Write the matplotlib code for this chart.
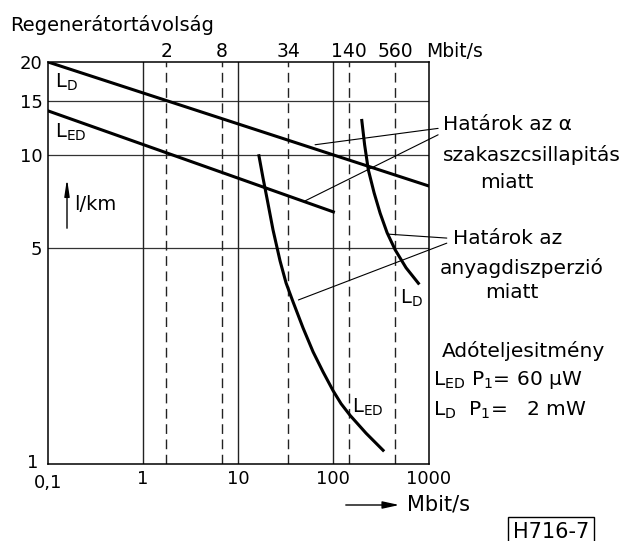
import matplotlib
matplotlib.use('Agg')
import matplotlib.pyplot as plt

W, H = 630, 541
plt.rcParams['font.family'] = ['DejaVu Sans']
plt.rcParams['mathtext.fontset'] = 'dejavusans'

# ---- data ----
top_labels = ['2', '8', '34', '140', '560']
top_label_pos = [1.75, 6.75, 33.6, 147, 446]
solid_x = [1, 10, 100]
grid_y = [5, 10, 15]
ytick_vals = [5, 10, 15, 20]
ytick_labels = ['5', '10', '15', '20']
xtick_vals = [1, 10, 100, 1000]
xtick_labels = ['1', '10', '100', '1000']

ld_att_x = [0.1, 1000]
ld_att_y = [20, 7.95]
led_att_x = [0.1, 100]
led_att_y = [13.9, 6.55]
led_disp_x = [16.5, 18.2, 20.1, 23.2, 27.5, 31.8, 37.7, 48.0, 61.2, 77.9,
              99.3, 120.5, 149.8, 220.8, 333]
led_disp_y = [9.95, 8.44, 7.22, 5.73, 4.55, 3.86, 3.35, 2.76, 2.31, 1.99,
              1.73, 1.57, 1.44, 1.26, 1.11]
ld_disp_x = [199, 213, 233, 268, 310, 367, 446, 581, 783]
ld_disp_y = [12.94, 10.8, 8.96, 7.55, 6.49, 5.61, 4.94, 4.32, 3.85]

fig = plt.figure(figsize=(W / 100, H / 100), dpi=100)
ax = fig.add_axes([48 / W, 1 - 464.3 / H, (428.5 - 48) / W, (464.3 - 62) / H])
ax.set_xscale('log')
ax.set_yscale('log')
ax.set_xlim(0.1, 1000)
ax.set_ylim(1, 20)
for s in ax.spines.values():
    s.set_linewidth(1.1)
ax.tick_params(length=0, labelsize=13, pad=4)
ax.set_xticks(xtick_vals)
ax.set_xticklabels(xtick_labels)
ax.set_yticks(ytick_vals)
ax.set_yticklabels(ytick_labels)
ax.minorticks_off()

for y in grid_y:
    ax.axhline(y, color='#333333', lw=0.9)
for x in solid_x:
    ax.axvline(x, color='#222222', lw=1.0)
for x in top_label_pos:
    ax.axvline(x, color='#222222', lw=1.0, dashes=(7, 4))

tr_top = ax.get_xaxis_transform()
for x, lab in zip(top_label_pos, top_labels):
    ax.text(x, 1.026, lab, transform=tr_top, ha='center', va='center', fontsize=13.5)
ax.text(0.995, 1.026, 'Mbit/s', transform=ax.transAxes, ha='left', va='center', fontsize=13.5)

# special labels 0,1 and 1
ax.text(0.1, -0.047, '0,1', transform=tr_top, ha='center', va='center', fontsize=13)
ax.text(-0.04, 0.003, '1', transform=ax.transAxes, ha='center', va='center', fontsize=13)

lw = 2.2
ax.plot(ld_att_x, ld_att_y, color='black', lw=lw)
ax.plot(led_att_x, led_att_y, color='black', lw=lw)
ax.plot(led_disp_x, led_disp_y, color='black', lw=lw, solid_joinstyle='round')
ax.plot(ld_disp_x, ld_disp_y, color='black', lw=lw, solid_joinstyle='round')

# leader lines
leaders = [((64.2, 10.8), (1262, 12.2)),
           ((50.4, 7.11), (1262, 11.63)),
           ((379, 5.55), (1557, 5.39)),
           ((42.9, 3.40), (1557, 5.19))]
for a, b in leaders:
    ax.annotate('', xy=a, xytext=b, xycoords='data', textcoords='data',
                annotation_clip=False,
                arrowprops=dict(arrowstyle='-', lw=0.8, color='black',
                                shrinkA=0, shrinkB=0))


def ftxt(px, py, s, **kw):
    kw.setdefault('fontsize', 14.5)
    kw.setdefault('va', 'center')
    fig.text(px / W, 1 - py / H, s, **kw)


ftxt(10, 25, 'Regenerátortávolság', fontsize=14)
ftxt(55, 82, r'L$_\mathrm{D}$', fontsize=14)
ftxt(55, 132, r'L$_\mathrm{ED}$', fontsize=14)
ftxt(74, 204, 'l/km', fontsize=14)
ftxt(400, 298, r'L$_\mathrm{D}$', fontsize=14)
ftxt(352, 407, r'L$_\mathrm{ED}$', fontsize=14)

ftxt(443, 125, 'Határok az α')
ftxt(443, 155, 'szakaszcsillapitás')
ftxt(480, 182, 'miatt')
ftxt(453, 238, 'Határok az')
ftxt(440, 268, 'anyagdiszperzió')
ftxt(485, 293, 'miatt')
ftxt(442, 351, 'Adóteljesitmény')
ftxt(433, 380, r'L$_\mathrm{ED}$ P$_1$= 60 μW')
ftxt(433, 410, r'L$_\mathrm{D}$  P$_1$=   2 mW')
ftxt(407, 505, 'Mbit/s', fontsize=15)
ftxt(513, 532, 'H716-7', fontsize=15,
     bbox=dict(boxstyle='square,pad=0.25', fc='white', ec='black', lw=1.0))

# arrows
ax.annotate('', xy=(402 / W, 1 - 505 / H), xytext=(343 / W, 1 - 505 / H),
            xycoords='figure fraction', textcoords='figure fraction',
            arrowprops=dict(arrowstyle='-|>,head_length=1.0,head_width=0.22', lw=1.0, color='black'))
ax.annotate('', xy=(67 / W, 1 - 176 / H), xytext=(67 / W, 1 - 231 / H),
            xycoords='figure fraction', textcoords='figure fraction',
            arrowprops=dict(arrowstyle='-|>,head_length=1.0,head_width=0.15', lw=1.0, color='black'))

fig.savefig('out.png', dpi=100)
